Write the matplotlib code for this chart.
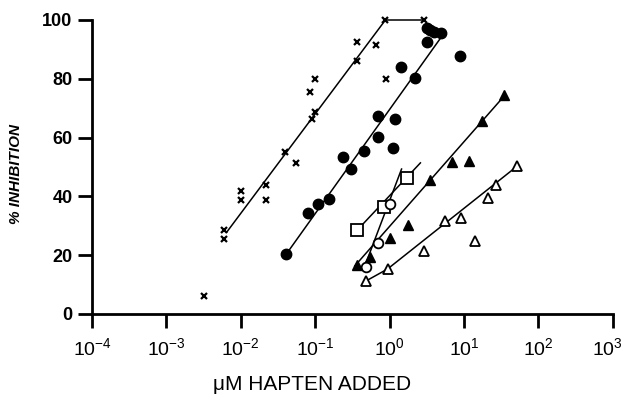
import matplotlib
matplotlib.use('Agg')
import matplotlib.pyplot as plt
import matplotlib.transforms as mtransforms

plt.rcParams['font.family'] = ['Liberation Sans', 'DejaVu Sans']
plt.rcParams['mathtext.fontset'] = 'custom'
plt.rcParams['mathtext.rm'] = 'Liberation Sans'
plt.rcParams['mathtext.it'] = 'Liberation Sans:italic'
plt.rcParams['mathtext.bf'] = 'Liberation Sans:bold'

# crosses
cross_x = [0.0032, 0.0059, 0.0059, 0.0102, 0.0102, 0.022, 0.022, 0.039, 0.055,
           0.091, 0.10, 0.085, 0.10, 0.37, 0.36, 0.65, 0.91, 0.88, 2.9]
cross_y = [6, 28.6, 25.5, 41.8, 38.8, 43.9, 38.8, 55.1, 51.4,
           66.3, 68.7, 75.5, 80, 86, 92.5, 91.5, 80, 100, 100]
cross_line_x = [0.0065, 0.88, 2.9]
cross_line_y = [27.9, 100, 100]

# filled circles
dot_x = [0.041, 0.080, 0.11, 0.155, 0.24, 0.30, 0.45, 0.71, 1.13, 0.71, 1.17,
         2.2, 1.41, 3.2, 3.2, 3.9, 4.9, 3.5, 8.9]
dot_y = [20.4, 34.4, 37.4, 39.1, 53.4, 49.3, 55.4, 60.2, 56.5, 67.3, 66.3,
         80.3, 84, 92.5, 97.3, 96, 95.6, 96.6, 87.8]
dot_line_x = [0.041, 4.9]
dot_line_y = [20.4, 94]

# open squares
sq_x = [0.37, 0.83, 1.70]
sq_y = [28.6, 36.4, 46.3]
sq_line_x = [0.37, 2.6]
sq_line_y = [28.6, 51.4]

# open circles
oc_x = [0.49, 0.71, 1.03]
oc_y = [16.0, 24.1, 37.4]
oc_line_x = [0.46, 1.45]
oc_line_y = [16.0, 49.3]

# filled triangles
tri_x = [0.36, 0.54, 1.0, 1.75, 3.5, 6.9, 11.7, 17.5, 34.5]
tri_y = [16.7, 19.4, 25.9, 30.3, 45.6, 51.7, 52, 65.6, 74.5]
tri_line_x = [0.34, 33]
tri_line_y = [16.3, 73.5]

# open triangles
otri_x = [0.48, 0.94, 2.9, 5.5, 9.1, 14.1, 21, 27, 52]
otri_y = [11.2, 15.3, 21.4, 31.6, 32.7, 24.8, 39.5, 43.9, 50.3]
otri_line_x = [0.48, 0.94, 52]
otri_line_y = [11.2, 15.3, 50.3]

xticks = [1e-4, 1e-3, 1e-2, 1e-1, 1e0, 1e1, 1e2, 1e3]
xticklabels = [r'$10^{-4}$', r'$10^{-3}$', r'$10^{-2}$', r'$10^{-1}$',
               r'$10^{0}$', r'$10^{1}$', r'$10^{2}$', r'$10^{3}$']
yticks = [0, 20, 40, 60, 80, 100]

fig = plt.figure(figsize=(6.26, 3.97), dpi=100)
ax = fig.add_axes([92 / 626, 1 - 314 / 397, (612.7 - 92) / 626, (314 - 20) / 397])

lw = 1.1
ax.plot(cross_line_x, cross_line_y, color='k', lw=lw, clip_on=False)
ax.plot(dot_line_x, dot_line_y, color='k', lw=lw, clip_on=False)
ax.plot(sq_line_x, sq_line_y, color='k', lw=lw, clip_on=False)
ax.plot(oc_line_x, oc_line_y, color='k', lw=lw, clip_on=False)
ax.plot(tri_line_x, tri_line_y, color='k', lw=lw, clip_on=False)
ax.plot(otri_line_x, otri_line_y, color='k', lw=lw, clip_on=False)

ax.plot(cross_x, cross_y, 'x', color='k', ms=4.5, mew=1.6, clip_on=False)
ax.plot(dot_x, dot_y, 'o', color='k', ms=7.5, clip_on=False)
ax.plot(sq_x, sq_y, 's', mfc='white', mec='k', ms=8, mew=1.3, clip_on=False)
ax.plot(oc_x, oc_y, 'o', mfc='white', mec='k', ms=7, mew=1.3, clip_on=False)
ax.plot(tri_x, tri_y, '^', color='k', ms=7.5, clip_on=False)
ax.plot(otri_x, otri_y, '^', mfc='white', mec='k', ms=7.5, mew=1.3, clip_on=False)

ax.set_xscale('log')
ax.set_xlim(1e-4, 1e3)
ax.set_ylim(0, 100)
ax.set_xticks(xticks)
ax.set_xticklabels(xticklabels)
ax.minorticks_off()
ax.set_yticks(yticks)
ax.set_yticklabels([str(v) for v in yticks], fontweight='bold')

for s in ['top', 'right']:
    ax.spines[s].set_visible(False)
for s in ['left', 'bottom']:
    ax.spines[s].set_linewidth(2)

ax.tick_params(axis='both', direction='out', length=10, width=2, colors='k')
ax.tick_params(axis='x', labelsize=14, pad=7)
ax.tick_params(axis='y', labelsize=13, pad=4)

# nudge the last x label in so it is not cut at the figure edge
last = ax.get_xticklabels()[-1]
last.set_transform(last.get_transform() +
                   mtransforms.ScaledTranslation(-5 / 100, 0, fig.dpi_scale_trans))

fig.text(312 / 626, 1 - 385 / 397, 'μM HAPTEN ADDED', fontsize=15,
         ha='center', va='center')
fig.text(16 / 626, 1 - 174 / 397, '% INHIBITION', fontsize=11,
         fontweight='bold', fontstyle='italic', rotation=90,
         ha='center', va='center')

fig.savefig('out.png', dpi=100)
